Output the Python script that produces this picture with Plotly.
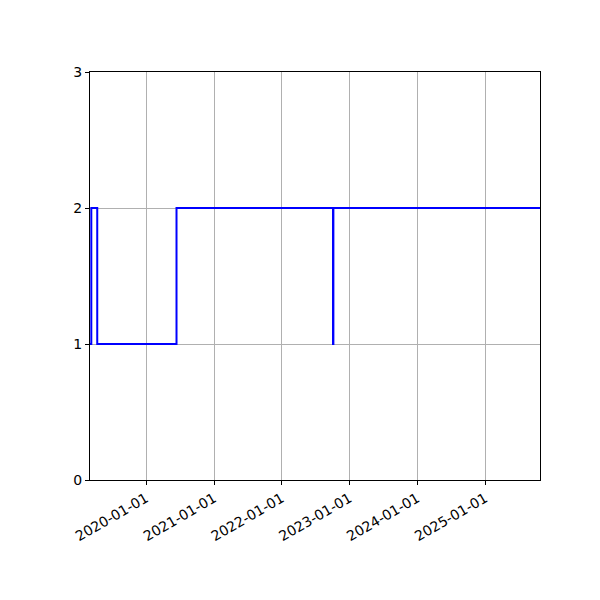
import plotly.graph_objects as go

# step points (value holds until the next date)
DATES = [
    "2019-03-05", "2019-03-12", "2019-04-13", "2020-06-13",
    "2022-10-04", "2022-10-06", "2025-10-23",
]
VALUES = [1, 2, 1, 2, 1, 2, 2]

TICK_DATES = ["2020-01-01", "2021-01-01", "2022-01-01", "2023-01-01", "2024-01-01", "2025-01-01"]
Y_TICKS = [0, 1, 2, 3]

FONT = "DejaVu Sans"

fig = go.Figure()
fig.add_trace(go.Scatter(
    x=DATES,
    y=VALUES,
    mode="lines",
    line=dict(color="blue", width=2, shape="hv"),
    showlegend=False,
))

axis_common = dict(
    showline=True,
    linecolor="black",
    linewidth=1,
    mirror=True,
    ticks="outside",
    ticklen=4,
    tickcolor="black",
    showgrid=True,
    gridcolor="#b0b0b0",
    gridwidth=1,
    zeroline=False,
    tickfont=dict(family=FONT, size=14, color="black"),
)

fig.update_xaxes(
    type="date",
    range=[DATES[0], DATES[-1]],
    tickvals=TICK_DATES,
    ticktext=TICK_DATES,
    tickangle=-30,
    **axis_common,
)
fig.update_yaxes(
    range=[0, 3],
    tickvals=Y_TICKS,
    **axis_common,
)

# page body adds an 8px offset, margins compensate for it
fig.update_layout(
    width=600,
    height=600,
    margin=dict(l=82, r=68, t=64, b=128),
    plot_bgcolor="white",
    paper_bgcolor="white",
)

fig.write_html("out.html")
